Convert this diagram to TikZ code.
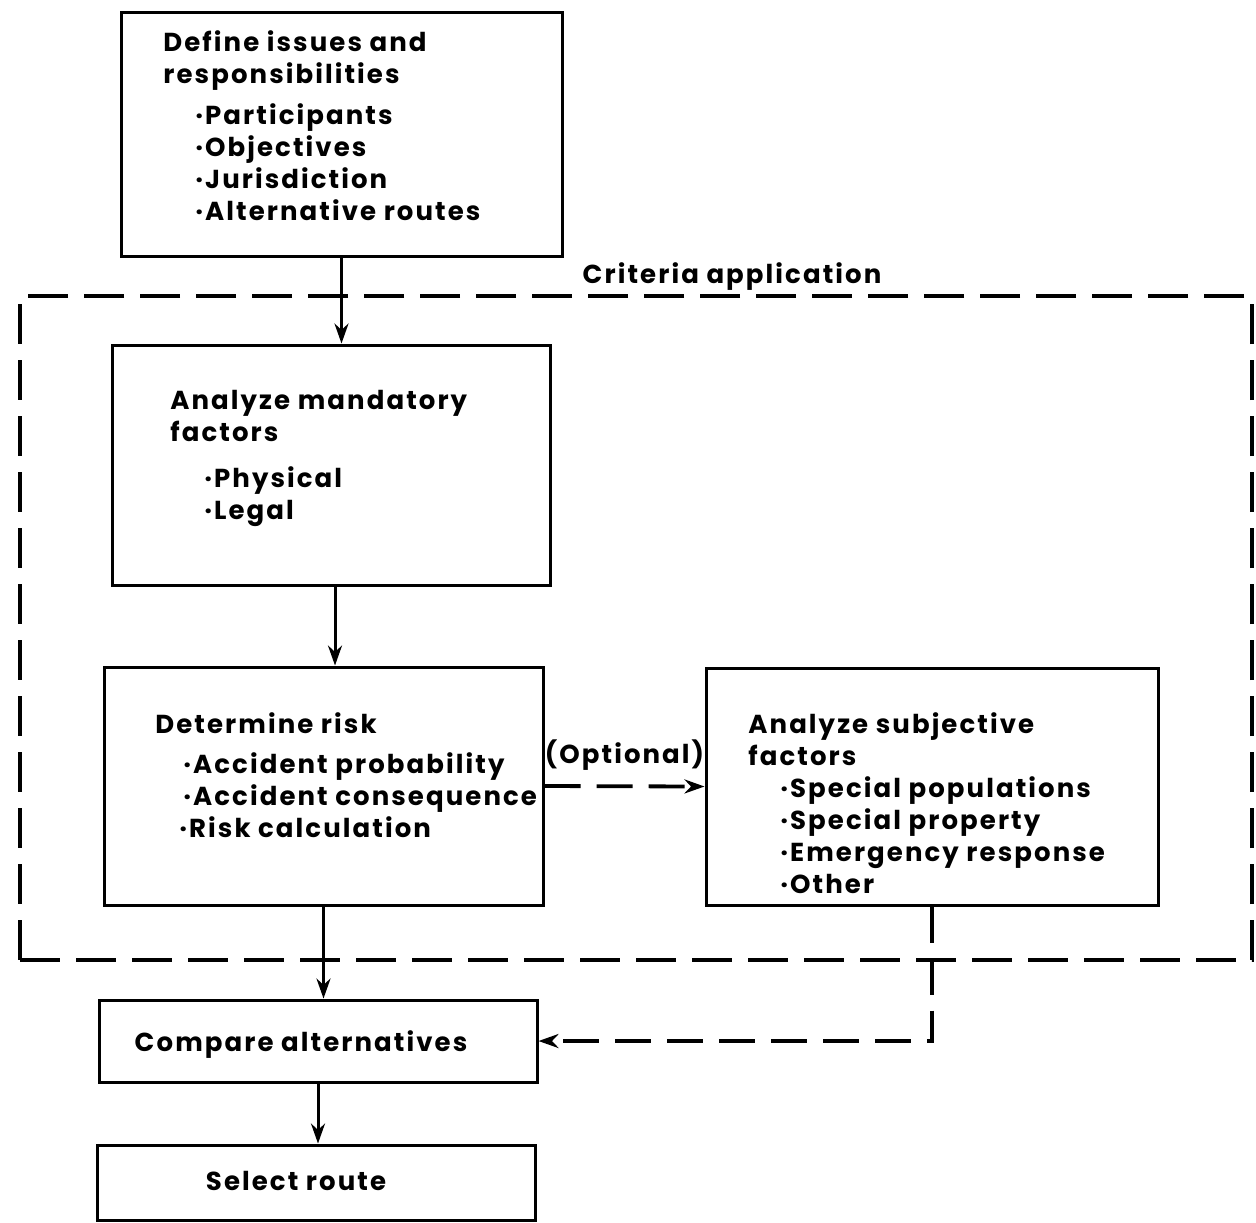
\documentclass[tikz,border=0pt]{standalone}
\usepackage{fontspec}
\setmainfont{Poppins}[LetterSpace=8]
\usetikzlibrary{arrows.meta}
\newcommand\bul{·\kern1pt}
\begin{document}
\begin{tikzpicture}[x=0.5pt,y=-0.5pt,
  box/.style={draw,line width=1.5pt,rectangle,inner sep=0pt},
  txt/.style={anchor=north west,align=left,inner sep=0pt,font=\fontsize{13}{16}\selectfont\bfseries},
  ctxt/.style={inner sep=0pt,font=\fontsize{13}{16}\selectfont\bfseries},
  conn/.style={line width=1.5pt,-{Stealth[length=10pt,width=7pt]}},
  dconn/.style={conn,line width=1.9pt,dash pattern=on 18pt off 8pt},
  outerbox/.style={draw,line width=2pt,dash pattern=on 20pt off 8pt,rectangle,inner sep=0pt}
]
\useasboundingbox (0,0) rectangle (1256,1222);
% outer dashed region
\node[outerbox,minimum width=616pt,minimum height=332pt] (crit) at (636,628) {};
\node[ctxt] (critlab) at (732,277) {Criteria application};
% boxes
\node[box,minimum width=220.5pt,minimum height=122pt] (b1) at (341.5,134) {};
\node[box,minimum width=219pt,minimum height=120pt] (b3) at (331,465) {};
\node[box,minimum width=219.5pt,minimum height=119pt] (b4) at (323.5,786) {};
\node[box,minimum width=226pt,minimum height=118.5pt] (b5) at (932,786.5) {};
\node[box,minimum width=219pt,minimum height=41pt] (cmp) at (318,1041) {};
\node[box,minimum width=219pt,minimum height=37.5pt] (sel) at (316,1182.5) {};
% texts
\node[txt] (t1) at (163,30) {Define issues and\\responsibilities\\[4.5pt]
  \hspace*{16pt}\bul Participants\\
  \hspace*{16pt}\bul Objectives\\
  \hspace*{16pt}\bul Jurisdiction\\
  \hspace*{16pt}\bul Alternative routes};
\node[txt] (t3) at (170,390) {Analyze mandatory\\factors\\[7pt]
  \hspace*{17pt}\bul Physical\\
  \hspace*{17pt}\bul Legal};
\node[txt] (t4) at (155,712) {Determine risk\\[4pt]
  \hspace*{14pt}\bul Accident probability\\
  \hspace*{14pt}\bul Accident consequence\\
  \hspace*{12pt}\bul Risk calculation};
\node[txt] (t5) at (748,712) {Analyze subjective\\factors\\
  \hspace*{16pt}\bul Special populations\\
  \hspace*{16pt}\bul Special property\\
  \hspace*{16pt}\bul Emergency response\\
  \hspace*{16pt}\bul Other};
\node[ctxt] (tc) at (301,1045) {Compare alternatives};
\node[ctxt] (ts) at (296,1181) {Select route};
% connectors
\draw[conn] (b1.south) -- (b1.south |- b3.north);
\draw[conn] ([xshift=2pt]b3.south) -- ([xshift=2pt]b3.south |- b4.north);
\draw[conn] (b4.south) -- (b4.south |- cmp.north);
\draw[conn] (cmp.south) -- (cmp.south |- sel.north);
\draw[dconn] (b4.east) -- node[ctxt,above=7pt] (opt) {(Optional)} (b5.west);
\draw[dconn] (b5.south) |- (cmp.east);
\end{tikzpicture}
\end{document}
